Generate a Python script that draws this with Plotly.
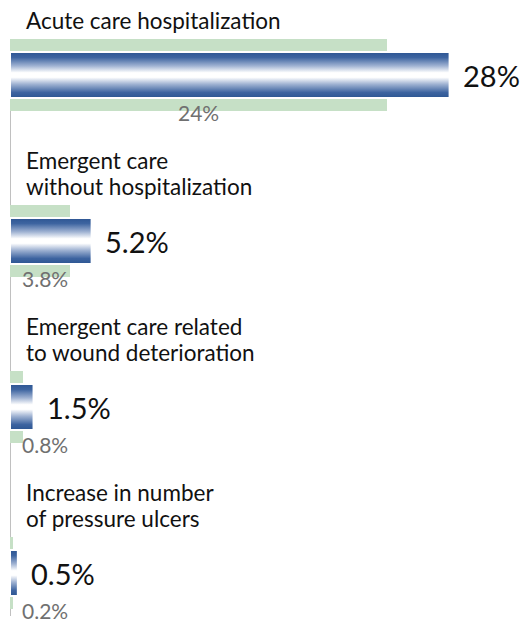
import plotly.graph_objects as go

categories = [
    "Acute care hospitalization",
    "Emergent care<br>without hospitalization",
    "Emergent care related<br>to wound deterioration",
    "Increase in number<br>of pressure ulcers",
]
agency_values = [28, 5.2, 1.5, 0.5]
agency_labels = ["28%", "5.2%", "1.5%", "0.5%"]
benchmark_values = [24, 3.8, 0.8, 0.2]
benchmark_labels = ["24%", "3.8%", "0.8%", "0.2%"]

FONT = "Lato"
BLUE = "#2c5592"
GREEN = "#c6e0c6"

W, H = 523, 614          # page body has an 8px offset
PX_PER_UNIT = 15.7       # px per percentage point
ROW = 166                # px per category
TOP = 67                 # px from top of figure to first bar centre

positions = list(range(len(categories)))
blue_half = 23 / ROW
green_width = 72 / ROW

fig = go.Figure()

fig.add_trace(go.Bar(
    x=benchmark_values, y=positions, orientation="h",
    width=green_width, marker=dict(color=GREEN, line=dict(width=0)),
    hoverinfo="skip", showlegend=False,
))

grad = [[0, BLUE], [0.12, "#3d64a0"], [0.3, "#9fb2d2"], [0.45, "#ffffff"],
        [0.55, "#ffffff"], [0.7, "#9fb2d2"], [0.88, "#3d64a0"], [1, BLUE]]
for p, v in zip(positions, agency_values):
    fig.add_trace(go.Scatter(
        x=[0, v, v, 0, 0],
        y=[p - blue_half, p - blue_half, p + blue_half, p + blue_half, p - blue_half],
        mode="lines", fill="toself",
        fillgradient=dict(type="vertical", colorscale=grad),
        line=dict(color="white", width=2),
        hoverinfo="skip", showlegend=False,
    ))

annotations = []
for p, cat, v, vl, b, bl in zip(positions, categories, agency_values, agency_labels,
                                benchmark_values, benchmark_labels):
    lines = cat.split("<br>")
    n = len(lines)
    for i, ln in enumerate(lines):
        annotations.append(dict(
            x=0, y=p, xref="x", yref="y", text=ln, showarrow=False,
            xanchor="left", yanchor="middle", xshift=15,
            yshift=55 + 26 * (n - 1 - i), align="left",
            font=dict(family=FONT, size=22.5, color="#111111"), borderpad=0,
        ))
    annotations.append(dict(
        x=v, y=p, xref="x", yref="y", text=vl, showarrow=False,
        xanchor="left", yanchor="middle", xshift=12,
        font=dict(family=FONT, size=29, color="#111111"), borderpad=0,
    ))
    annotations.append(dict(
        x=max(b / 2, 2.2), y=p, xref="x", yref="y", text=bl, showarrow=False,
        xanchor="center", yanchor="middle", yshift=-37,
        font=dict(family=FONT, size=21, color="#707070"), borderpad=0,
    ))

fig.update_layout(
    width=W, height=H,
    margin=dict(l=2, r=0, t=0, b=0),
    paper_bgcolor="white", plot_bgcolor="white",
    xaxis=dict(range=[0, (W - 2) / PX_PER_UNIT], visible=False, fixedrange=True),
    yaxis=dict(range=[(H - TOP) / ROW, -TOP / ROW], visible=False, fixedrange=True),
    annotations=annotations,
    shapes=[dict(type="line", xref="x", yref="y", x0=0, x1=0,
                 y0=-green_width / 2, y1=(H - TOP - 6) / ROW,
                 line=dict(color="#c0c0c0", width=2), layer="below")],
    bargap=0,
)

fig.write_html("out.html")
